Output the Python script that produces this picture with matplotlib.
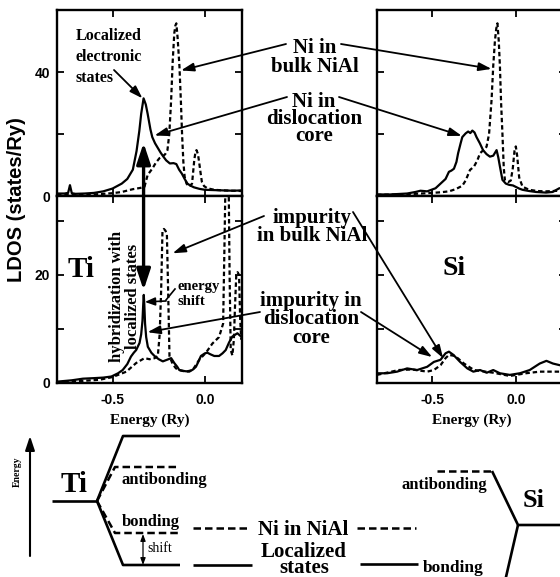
import matplotlib
matplotlib.use('Agg')
import matplotlib.pyplot as plt

SERIF = 'Liberation Serif'
SANS = 'Liberation Sans'

# ---- values: energy (Ry) vs LDOS (states/Ry) ----
# Ti case: Ni site (top left)
ti_ni_core_e = [-0.80, -0.76, -0.74, -0.73, -0.72, -0.70, -0.65, -0.60, -0.55, -0.50, -0.45, -0.42,
                -0.39, -0.37, -0.355, -0.345, -0.332, -0.32, -0.31, -0.295, -0.285, -0.27, -0.255,
                -0.24, -0.225, -0.21, -0.19, -0.17, -0.155, -0.14, -0.125, -0.11, -0.095, -0.08,
                -0.06, -0.03, 0.00, 0.05, 0.10, 0.15, 0.20]
ti_ni_core_d = [0.8, 0.8, 1.0, 3.5, 0.9, 0.7, 0.8, 1.0, 1.5, 2.4, 4.0, 5.5,
                8.5, 14.5, 21.0, 26.5, 31.5, 29.5, 26.5, 21.5, 19.0, 17.0, 15.5,
                14.0, 12.7, 11.5, 10.5, 10.6, 10.3, 8.5, 7.2, 5.5, 4.0, 3.4,
                2.8, 2.3, 2.0, 1.9, 1.8, 1.7, 1.8]
ti_ni_bulk_e = [-0.80, -0.70, -0.60, -0.50, -0.45, -0.39, -0.35, -0.327, -0.31, -0.295, -0.283,
                -0.265, -0.246, -0.23, -0.215, -0.203, -0.193, -0.183, -0.175, -0.166, -0.16,
                -0.155, -0.148, -0.138, -0.13, -0.124, -0.117, -0.11, -0.10, -0.085, -0.07,
                -0.058, -0.052, -0.046, -0.038, -0.031, -0.024, -0.017, -0.005, 0.012, 0.05,
                0.10, 0.15, 0.20]
ti_ni_bulk_d = [0.3, 0.4, 0.5, 0.9, 1.3, 2.2, 2.6, 3.0, 6.8, 8.0, 9.0,
                10.8, 12.2, 12.7, 13.5, 14.8, 20.0, 31.0, 43.0, 52.5, 55.0,
                55.7, 51.0, 41.7, 30.0, 20.0, 11.0, 6.2, 4.0, 3.0, 4.0,
                11.6, 14.0, 14.8, 13.5, 10.6, 7.5, 4.6, 3.2, 2.5, 2.0,
                1.8, 1.7, 1.6]

# Ti case: Ti impurity site (bottom left)
ti_imp_core_e = [-0.80, -0.72, -0.66, -0.60, -0.55, -0.506, -0.47, -0.445, -0.42, -0.40, -0.385,
                 -0.372, -0.354, -0.345, -0.338, -0.334, -0.331, -0.328, -0.324, -0.318, -0.309,
                 -0.29, -0.273, -0.25, -0.228, -0.205, -0.183, -0.166, -0.15, -0.139, -0.11,
                 -0.085, -0.065, -0.049, -0.035, -0.022, 0.0, 0.013, 0.03, 0.05, 0.076, 0.095,
                 0.112, 0.13, 0.148, 0.175, 0.195]
ti_imp_core_d = [0.25, 0.5, 0.8, 0.9, 1.0, 1.2, 1.8, 2.4, 3.5, 4.9, 5.6,
                 6.1, 7.4, 9.0, 11.5, 14.5, 16.3, 14.5, 11.0, 8.5, 6.7,
                 5.6, 5.0, 4.4, 4.0, 4.3, 4.6, 3.7, 3.0, 2.4, 2.2,
                 2.1, 2.5, 3.0, 4.0, 5.0, 5.5, 5.6, 5.3, 5.0, 5.0, 5.5,
                 6.1, 7.5, 8.6, 9.2, 8.6]
ti_imp_bulk_e = [-0.80, -0.70, -0.569, -0.50, -0.425, -0.372, -0.327, -0.30, -0.272, -0.255,
                 -0.245, -0.237, -0.23, -0.222, -0.214, -0.206, -0.198, -0.192, -0.175, -0.157,
                 -0.13, -0.103, -0.067, -0.031, 0.005, 0.04, 0.076, 0.098, 0.105, 0.112, 0.12,
                 0.127, 0.133, 0.139, 0.148, 0.156, 0.162, 0.169, 0.176, 0.184, 0.19, 0.196]
ti_imp_bulk_d = [0.1, 0.3, 0.6, 1.1, 2.1, 3.7, 4.6, 4.4, 4.6, 5.0,
                 9.0, 17.2, 28.0, 28.5, 28.2, 27.5, 15.0, 5.0, 3.5, 2.7,
                 2.3, 2.1, 2.4, 4.3, 5.6, 7.3, 8.5, 11.0, 25.0, 40.0, 42.0,
                 40.0, 20.0, 6.1, 5.1, 8.0, 14.0, 20.0, 20.5, 20.0, 12.0, 8.0]

# Si case: Ni site (top right)
si_ni_core_e = [-0.83, -0.75, -0.65, -0.60, -0.57, -0.53, -0.48, -0.45, -0.42, -0.40, -0.385,
                -0.37, -0.355, -0.345, -0.33, -0.32, -0.30, -0.285, -0.272, -0.26, -0.247,
                -0.235, -0.215, -0.196, -0.175, -0.155, -0.135, -0.115, -0.105, -0.095, -0.08,
                -0.06, -0.04, -0.017, 0.02, 0.04, 0.08, 0.12, 0.18, 0.22, 0.26, 0.30]
si_ni_core_d = [0.5, 0.5, 0.8, 1.3, 1.7, 1.5, 2.5, 4.0, 5.5, 7.8, 8.2,
                8.8, 11.0, 13.8, 17.0, 19.0, 20.2, 20.8, 20.3, 21.1, 20.5,
                19.0, 17.0, 14.8, 13.5, 12.7, 13.0, 14.8, 12.5, 9.5, 5.2,
                4.0, 3.6, 3.4, 2.4, 2.0, 1.6, 1.3, 1.1, 1.3, 2.5, 2.6]
si_ni_bulk_e = [-0.83, -0.70, -0.60, -0.50, -0.45, -0.40, -0.36, -0.32, -0.30, -0.274, -0.25,
                -0.23, -0.214, -0.19, -0.175, -0.16, -0.145, -0.135, -0.125, -0.117, -0.11,
                -0.102, -0.095, -0.088, -0.08, -0.072, -0.065, -0.045, -0.03, -0.018, -0.008,
                0.0, 0.008, 0.02, 0.04, 0.08, 0.13, 0.18, 0.22, 0.26, 0.30]
si_ni_bulk_d = [0.4, 0.5, 0.7, 1.0, 1.2, 1.5, 2.2, 3.3, 5.0, 8.4, 9.5,
                11.5, 13.8, 15.0, 15.9, 20.0, 31.0, 42.0, 50.0, 54.0, 55.7,
                50.0, 41.7, 30.0, 20.0, 9.0, 5.0, 4.5, 5.0, 9.0, 14.5,
                16.0, 13.0, 6.0, 3.0, 2.0, 1.6, 1.5, 1.6, 1.7, 1.7]

# Si case: Si impurity site (bottom right)
si_imp_core_e = [-0.83, -0.77, -0.71, -0.65, -0.59, -0.53, -0.49, -0.45, -0.42, -0.40, -0.373,
                 -0.333, -0.29, -0.254, -0.214, -0.174, -0.135, -0.095, -0.036, 0.024, 0.083,
                 0.143, 0.183, 0.222, 0.262, 0.30]
si_imp_core_d = [1.8, 1.8, 2.1, 2.7, 2.4, 3.0, 3.9, 4.3, 5.5, 5.8, 5.2,
                 3.9, 2.7, 2.1, 2.4, 1.9, 2.4, 1.8, 1.5, 1.8, 2.4,
                 3.6, 4.1, 3.6, 3.3, 3.2]
si_imp_bulk_e = [-0.83, -0.70, -0.62, -0.53, -0.49, -0.45, -0.42, -0.40, -0.363, -0.31, -0.25,
                 -0.135, -0.036, 0.06, 0.143, 0.262, 0.30]
si_imp_bulk_d = [1.5, 2.4, 2.5, 2.1, 2.4, 3.3, 4.6, 5.2, 5.0, 3.6, 2.4,
                 1.9, 1.3, 1.8, 2.1, 2.1, 2.1]

W, H = 560, 577
fig = plt.figure(figsize=(W / 100, H / 100), dpi=100)


def px_axes(l, t, r, b):
    return fig.add_axes([l / W, 1 - b / H, (r - l) / W, (b - t) / H])


ax_tl = px_axes(57, 10, 242, 196)
ax_bl = px_axes(57, 196, 242, 383)
ax_tr = px_axes(377, 10, 566, 196)
ax_br = px_axes(377, 196, 566, 383)

dash = (0, (2.0, 1.3))
panels = [
    (ax_tl, ti_ni_core_e, ti_ni_core_d, ti_ni_bulk_e, ti_ni_bulk_d),
    (ax_bl, ti_imp_core_e, ti_imp_core_d, ti_imp_bulk_e, ti_imp_bulk_d),
    (ax_tr, si_ni_core_e, si_ni_core_d, si_ni_bulk_e, si_ni_bulk_d),
    (ax_br, si_imp_core_e, si_imp_core_d, si_imp_bulk_e, si_imp_bulk_d),
]
for ax, ce, cd, be, bd in panels:
    ax.plot(ce, cd, color='black', lw=1.6)
    ax.plot(be, bd, color='black', lw=1.6, ls=dash)

for ax in (ax_tl, ax_bl, ax_tr, ax_br):
    for s in ax.spines.values():
        s.set_linewidth(1.7)
    ax.tick_params(direction='in', top=True, right=True, length=5, width=1.3,
                   labelsize=10, pad=5)
    ax.tick_params(axis='x', pad=7)
    ax.set_xticks([-0.5, 0.0])

ax_tl.set_xlim(-0.8, 0.2)
ax_bl.set_xlim(-0.8, 0.2)
ax_tr.set_xlim(-0.83, 0.30)
ax_br.set_xlim(-0.83, 0.30)
for ax in (ax_tl, ax_tr):
    ax.set_ylim(0, 60)
    ax.set_yticks([0, 20, 40])
    ax.set_xticklabels([])
for ax in (ax_bl, ax_br):
    ax.set_ylim(0, 34.6)
    ax.set_yticks([0, 10, 20, 30])
    ax.set_xticklabels(['-0.5', '0.0'], fontfamily=SANS, fontweight='bold', fontsize=10)
    ax.set_xlabel('Energy (Ry)', fontfamily=SERIF, fontweight='bold', fontsize=11, labelpad=5)
ax_tl.set_yticklabels(['0', '', '40'], fontfamily=SANS, fontweight='bold', fontsize=10)
ax_bl.set_yticklabels(['0', '', '20', ''], fontfamily=SANS, fontweight='bold', fontsize=10)
ax_tr.set_yticklabels([])
ax_br.set_yticklabels([])

fig.text(17 / W, 1 - 200 / H, 'LDOS (states/Ry)', rotation=90, ha='center', va='center',
         fontfamily=SANS, fontweight='bold', fontsize=14.5)

# overlay in pixel units for labels, arrows and the level scheme
ov = fig.add_axes([0, 0, 1, 1], zorder=10)
ov.set_xlim(0, W)
ov.set_ylim(H, 0)
ov.axis('off')
ov.patch.set_alpha(0)


def block(x, base1, text, size, gap=18, ha='center', weight='bold'):
    # multi-line label: first baseline at base1, baselines `gap` pixels apart
    s = size * 100 / 72
    ls = (gap / s - 0.217) / 0.683
    ov.text(x, base1 - 0.683 * s, text, ha=ha, va='top', multialignment=ha,
            linespacing=ls, fontfamily=SERIF, fontweight=weight, fontsize=size)


def arrow(start, target, ax, lw=1.3):
    ov.annotate('', xy=target, xycoords=ax.transData, xytext=start, textcoords=ov.transData,
                annotation_clip=False,
                arrowprops=dict(arrowstyle='-|>,head_length=0.55,head_width=0.18', lw=lw,
                                color='black', shrinkA=0, shrinkB=0, mutation_scale=14))


block(76, 39, 'Localized\nelectronic\nstates', 11.5, gap=19, ha='left')
arrow((114, 70), (-0.338, 31.5), ax_tl)

block(315, 52, 'Ni in\nbulk NiAl', 15, gap=18)
arrow((286, 44), (-0.13, 40.5), ax_tl)
arrow((341, 44), (-0.145, 41.0), ax_tr)

block(314, 106, 'Ni in\ndislocation\ncore', 15, gap=15.8)
arrow((287, 97), (-0.273, 19.5), ax_tl)
arrow((339, 97), (-0.323, 19.4), ax_tr)

block(312, 222, 'impurity\nin bulk NiAl', 15, gap=17)
arrow((264, 216), (-0.175, 24.0), ax_bl)
arrow((353, 212), (-0.435, 4.6), ax_br)

block(311, 305, 'impurity in\ndislocation\ncore', 15, gap=17.5)
arrow((260, 312), (-0.311, 9.4), ax_bl)
arrow((361, 312), (-0.50, 4.8), ax_br)

block(177, 290, 'energy\nshift', 10.5, gap=15, ha='left')
ov.plot([175, 166], [289, 300], color='black', lw=1.2)
ov.annotate('', xy=(-0.325, 15.0), xycoords=ax_bl.transData, xytext=(166, 301),
            textcoords=ov.transData, annotation_clip=False,
            arrowprops=dict(arrowstyle='-|>,head_length=0.5,head_width=0.2', lw=1.2,
                            color='black', shrinkA=0, shrinkB=0, mutation_scale=12))

ov.text(125, 296, 'hybridization with\nlocalized states', rotation=90, ha='center',
        va='center', multialignment='center', linespacing=0.95,
        fontfamily=SERIF, fontweight='bold', fontsize=12)

# double arrow linking the localized state and the impurity peak
ov.annotate('', xy=(-0.332, 17.2), xycoords=ax_bl.transData, xytext=(-0.332, 17.1),
            textcoords=ax_tl.transData, annotation_clip=False,
            arrowprops=dict(arrowstyle='<|-|>,head_length=0.9,head_width=0.3', lw=2.4,
                            color='black', shrinkA=0, shrinkB=0, mutation_scale=14))

ov.text(81, 277, 'Ti', ha='center', va='baseline', fontfamily=SERIF, fontweight='bold',
        fontsize=21)
ov.text(454, 275, 'Si', ha='center', va='baseline', fontfamily=SERIF, fontweight='bold',
        fontsize=20)

# ---- level scheme ----
k = dict(color='black', lw=1.9, solid_capstyle='butt')
kd = dict(color='black', lw=1.8, ls=(0, (3, 1.6)))

ov.annotate('', xy=(30, 436), xytext=(30, 556), textcoords='data',
            arrowprops=dict(arrowstyle='-|>,head_length=0.6,head_width=0.2', lw=1.5,
                            color='black', shrinkA=0, shrinkB=0, mutation_scale=14))
ov.text(17, 472, 'Energy', rotation=90, ha='center', va='center', fontfamily=SERIF,
        fontweight='bold', fontsize=7)

ov.plot([52, 97], [501, 501], **k)
ov.text(74, 492, 'Ti', ha='center', va='baseline', fontfamily=SERIF, fontweight='bold',
        fontsize=21)
ov.plot([97, 123, 180], [501, 436, 436], **k)
ov.plot([97, 123, 180], [501, 565, 565], **k)
ov.plot([97, 115, 180], [501, 467, 467], **kd)
ov.plot([97, 115, 180], [501, 533, 533], **kd)
block(122, 483, 'antibonding', 12, ha='left')
block(122, 525, 'bonding', 12, ha='left')
ov.annotate('', xy=(143, 565), xytext=(143, 534), textcoords='data',
            arrowprops=dict(arrowstyle='<|-|>,head_length=0.4,head_width=0.15', lw=0.9,
                            color='black', shrinkA=0, shrinkB=0, mutation_scale=10))
block(147, 551, 'shift', 10, ha='left', weight='normal')

ov.plot([193, 250], [528, 528], **kd)
ov.plot([357, 416], [528, 528], **kd)
block(303, 534, 'Ni in NiAl', 15)
ov.plot([193, 252], [565, 565], **k)
ov.plot([360, 418], [564, 564], **k)
block(304, 556, 'Localized\nstates', 15, gap=15)

ov.plot([437, 492], [471, 471], **kd)
ov.plot([492, 518, 562], [471, 525, 525], **k)
ov.plot([518, 503], [525, 590], **k)
block(402, 488, 'antibonding', 12, ha='left')
block(423, 572, 'bonding', 12.5, ha='left')
ov.text(534, 507, 'Si', ha='center', va='baseline', fontfamily=SERIF, fontweight='bold',
        fontsize=19)

fig.savefig('out.png', dpi=100)
